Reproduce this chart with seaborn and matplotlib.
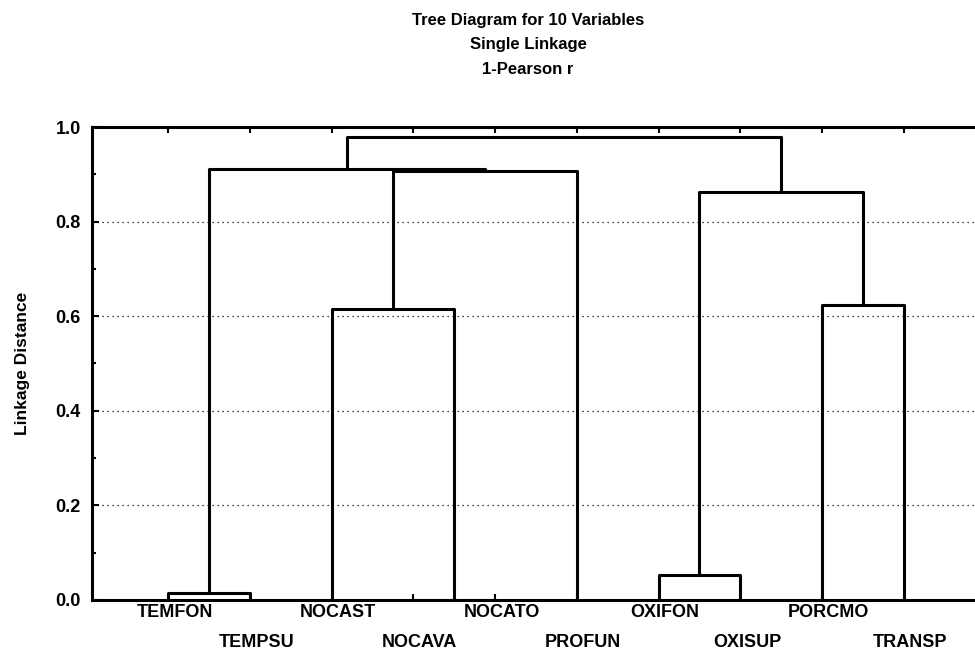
import pandas as pd
import matplotlib
matplotlib.use('Agg')
import matplotlib.pyplot as plt
import seaborn as sns
from matplotlib.ticker import MultipleLocator

# leaves, in the order they sit along the axis
labels = ['TEMFON', 'TEMPSU', 'NOCAST', 'NOCAVA', 'NOCATO',
          'PROFUN', 'OXIFON', 'OXISUP', 'PORCMO', 'TRANSP']

# joins, lowest first. ids 0-9 are leaves, 10+ are the earlier joins
join_a = [3, 0, 6, 2, 8, 12, 13, 11, 17]
join_b = [4, 1, 7, 10, 9, 14, 5, 16, 15]
join_dist = [0.0, 0.015, 0.053, 0.615, 0.624, 0.863, 0.907, 0.911, 0.979]

y_ticks = [0.0, 0.2, 0.4, 0.6, 0.8, 1.0]


def build_tree(n_leaves):
    # each join becomes a U shape: up from a, across, down to b
    pos = {i: i + 1 for i in range(n_leaves)}
    hgt = {i: 0.0 for i in range(n_leaves)}
    rows = []
    for k, (a, b, d) in enumerate(zip(join_a, join_b, join_dist)):
        xa, xb = pos[a], pos[b]
        rows += [(k, xa, hgt[a]), (k, xa, d), (k, xb, d), (k, xb, hgt[b])]
        pos[n_leaves + k] = (xa + xb) / 2
        hgt[n_leaves + k] = d
    return pd.DataFrame(rows, columns=['join', 'x', 'y'])


tree = build_tree(len(labels))

sns.set_style('ticks')
plt.rcParams['font.family'] = ['Liberation Sans', 'DejaVu Sans']
# seaborn greys the text, the original is plain black
plt.rcParams['text.color'] = 'black'
plt.rcParams['axes.labelcolor'] = 'black'
plt.rcParams['xtick.color'] = 'black'
plt.rcParams['ytick.color'] = 'black'

fig = plt.figure(figsize=(9.75, 6.56), dpi=100)
ax = fig.add_axes([92 / 975, 56 / 656, 1 - 92 / 975, 473 / 656])

ax.grid(axis='y', linestyle=(0, (1, 3)), color='black', linewidth=0.9)
sns.lineplot(data=tree, x='x', y='y', units='join', estimator=None, sort=False,
             color='black', linewidth=2.2, legend=False, ax=ax)

ax.set_xlim(0.07, 10.87)
ax.set_ylim(0, 1)
ax.set_yticks(y_ticks)
ax.set_yticklabels([f'{v:.1f}' for v in y_ticks], fontsize=13, fontweight='bold')
ax.yaxis.set_minor_locator(MultipleLocator(0.1))
ax.set_xticks(range(1, len(labels) + 1))
ax.set_xticklabels([])
ax.tick_params(axis='both', which='both', direction='in', top=True, width=1.5, color='black')
ax.tick_params(axis='y', which='major', length=5, pad=8)
ax.tick_params(axis='y', which='minor', length=3)
ax.tick_params(axis='x', length=4)

for side in ['left', 'top', 'bottom']:
    ax.spines[side].set_linewidth(2.2)
    ax.spines[side].set_color('black')
ax.spines['right'].set_visible(False)

# staggered leaf names, two rows
for i, name in enumerate(labels):
    y = -0.026 if i % 2 == 0 else -0.089
    ax.text(i + 1 + 0.08, y, name, transform=ax.get_xaxis_transform(),
            ha='center', va='center', fontsize=13, fontweight='bold')

ax.set_xlabel('')
ax.set_ylabel('Linkage Distance', fontsize=12.5, fontweight='bold')
ax.yaxis.set_label_coords(-62 / 883, 0.5)

fig.text(528 / 975, 1 - 20 / 656, 'Tree Diagram for 10 Variables', ha='center', va='center',
         fontsize=12, fontweight='bold')
fig.text(528 / 975, 1 - 45 / 656, 'Single Linkage', ha='center', va='center',
         fontsize=12, fontweight='bold')
fig.text(528 / 975, 1 - 70 / 656, '1-Pearson r', ha='center', va='center',
         fontsize=12, fontweight='bold')

fig.savefig('out.png', dpi=100)
